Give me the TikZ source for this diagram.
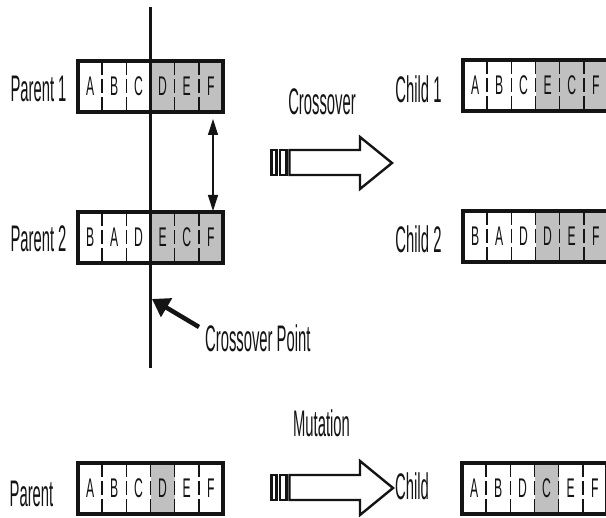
\documentclass[tikz,border=0pt]{standalone}
\usepackage{fontspec}
\usetikzlibrary{arrows.meta}
% narrow sans faces for the labels and the gene letters
\newfontfamily\labelface[FakeStretch=0.40]{Liberation Sans}
\newfontfamily\geneface[FakeStretch=0.45]{Liberation Sans}
\definecolor{geneshade}{RGB}{192,192,192}
\definecolor{ink}{RGB}{20,20,20}
\def\cellw{24.17}

\tikzset{
  genecell/.style={minimum width=24.17pt, minimum height=51pt, inner sep=0pt, outer sep=0pt,
    anchor=north west, text=ink, font=\geneface\fontsize{27}{27}\selectfont},
  divider/.style={draw=ink, line width=1.4pt, dash pattern=on 14pt off 4pt},
  frame/.style={draw=ink, line width=3.2pt},
  lab/.style={text=ink, inner sep=0pt, font=\labelface\fontsize{37}{37}\selectfont},
  hollow/.style={draw=ink, line width=2.4pt, fill=white, line join=miter},
  cutline/.style={draw=ink, line width=3.6pt},
  pointer/.style={draw=ink, line width=4.5pt, -{Triangle[length=17pt,width=21pt]}},
  swap/.style={draw=ink, line width=1.2pt, {Triangle[length=16pt,width=10pt]}-{Triangle[length=16pt,width=10pt]}}
}

% a chromosome: name, left x, top y, list of letter/fill pairs
\newcommand\genestring[4]{%
  \foreach \g/\c [count=\i] in {#4} {
    \node[genecell, fill=\c] (#1-\i) at ({#2+(\i-1)*\cellw}, #3) {\g};
  }
  \foreach \i in {1,...,5} \draw[divider] (#1-\i.north east) -- (#1-\i.south east);
  \draw[frame] (#1-1.north west) rectangle (#1-6.south east);
}

\begin{document}
\begin{tikzpicture}[x=1pt, y=-1pt]
\useasboundingbox (0,0) rectangle (606,518);
\clip (0,0) rectangle (606,518);
\fill[white] (0,0) rectangle (606,518);

% crossover: parents and children
\genestring{pa}{78}{61}{A/white,B/white,C/white,D/geneshade,E/geneshade,F/geneshade}
\genestring{pb}{78}{212}{B/white,A/white,D/white,E/geneshade,C/geneshade,F/geneshade}
\genestring{ca}{463}{60}{A/white,B/white,C/white,E/geneshade,C/geneshade,F/geneshade}
\genestring{cb}{463}{211}{B/white,A/white,D/white,D/geneshade,E/geneshade,F/geneshade}

\node[lab, anchor=base] (palab) at (38.5,102) {Parent 1};
\node[lab, anchor=base] (pblab) at (38.5,252) {Parent 2};
\node[lab, anchor=base] (calab) at (418.5,103) {Child 1};
\node[lab, anchor=base] (cblab) at (418.5,253) {Child 2};
\node[lab, anchor=base] (xlab) at (322,115) {Crossover};

% crossover point line and its pointer
\coordinate (cutTop) at (150.3,7);
\coordinate (cutBot) at (150.3,368);
\draw[cutline] (cutTop) -- (cutBot);
\node[lab, anchor=base west] (cplab) at (205,352) {Crossover Point};
\coordinate (cpTail) at (199,327);
\coordinate (cpTip) at (152,299);
\draw[pointer] (cpTail) -- (cpTip);

% exchange of the tails
\coordinate (swapTop) at (213,119);
\coordinate (swapBot) at (213,211);
\draw[swap] (swapTop) -- (swapBot);

% hollow crossover arrow
\draw[hollow] (271.5,150) rectangle (276.5,175);
\draw[hollow] (280,150) rectangle (286.5,175);
\draw[hollow] (289.5,150) -- (360,150) -- (360,137) -- (392,163) -- (360,189) -- (360,175) -- (289.5,175) -- cycle;

% mutation
\node[lab, anchor=base] (mlab) at (321.5,437) {Mutation};
\genestring{mp}{78}{463}{A/white,B/white,C/white,D/geneshade,E/white,F/white}
\genestring{mc}{462}{463}{A/white,B/white,D/white,C/geneshade,E/white,F/white}
\node[lab, anchor=base] (mplab) at (31.5,507) {Parent};
\node[lab, anchor=base west] (mclab) at (395,500) {Child};

\draw[hollow] (271.5,475) rectangle (276.5,500);
\draw[hollow] (280,475) rectangle (286.5,500);
\draw[hollow] (289.5,475) -- (360,475) -- (360,461) -- (393,488) -- (360,515) -- (360,500) -- (289.5,500) -- cycle;
\end{tikzpicture}
\end{document}
